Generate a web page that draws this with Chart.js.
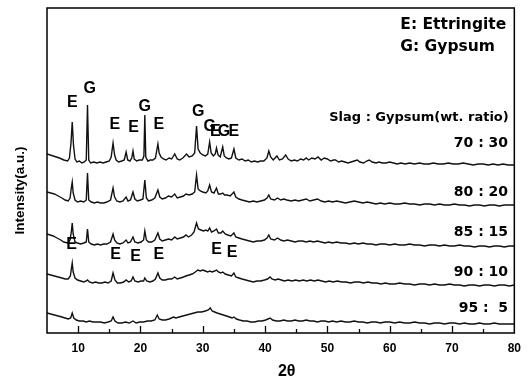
<!DOCTYPE html>
<html>
<head>
<meta charset="utf-8">
<script src="https://cdn.jsdelivr.net/npm/chart.js@4.4.1/dist/chart.umd.min.js"></script>
<style>
  html, body { margin: 0; padding: 0; background: #fff; }
  #wrap { width: 529px; height: 380px; }
</style>
</head>
<body>
<div id="wrap"><canvas id="xrd" width="529" height="380"></canvas></div>
<script>
// axis range / ticks (2 theta)
const twoThetaMin = 5;
const twoThetaMax = 80;
const tickStep = 5;
const labelStep = 10;
const intensityMax = 325;

// Slag : Gypsum ratios, top to bottom, and the level of each label
const ratioLabels = ['70 : 30', '80 : 20', '85 : 15', '90 : 10', '95 :  5'];
const ratioLabelLevels = [190, 141, 101, 61, 25];

// patterns as [2theta, intensity] pairs (already stacked)
const pattern7030 = [[5,179],[6,177],[7,175],[7.7,173],[8.3,172],[8.6,175],[8.85,190],[9.05,211],[9.25,188],[9.5,174],[9.8,171],[10.2,172],[10.6,170],[11.0,171],[11.3,173],[11.5,228],[11.7,173],[12.0,170],[12.5,171],[13.0,170],[13.5,171],[14.0,170],[14.5,171],[15.0,172],[15.3,176],[15.6,190],[15.85,178],[16.1,173],[16.5,171],[17.0,172],[17.4,173],[17.7,181],[17.95,173],[18.3,172],[18.6,175],[18.8,182],[19.0,174],[19.4,172],[19.8,173],[20.3,173],[20.55,177],[20.7,218],[20.85,176],[21.2,172],[21.6,173],[22.0,173],[22.4,175],[22.8,189],[23.0,180],[23.3,176],[23.7,174],[24.1,173],[24.6,175],[25.0,174],[25.5,179],[25.9,174],[26.3,173],[26.8,175],[27.4,179],[27.8,176],[28.3,177],[28.7,180],[29.0,207],[29.25,184],[29.6,180],[30.0,178],[30.4,177],[30.8,179],[31.1,191],[31.35,180],[31.7,177],[32.0,179],[32.2,185],[32.45,178],[32.8,176],[33.2,186],[33.45,177],[33.8,175],[34.2,174],[34.6,175],[35.0,184],[35.3,175],[35.8,173],[36.3,174],[36.8,172],[37.3,173],[37.8,171],[38.3,172],[38.8,171],[39.3,172],[39.8,172],[40.3,175],[40.6,182],[40.9,176],[41.3,173],[41.9,177],[42.3,173],[42.8,174],[43.3,178],[43.7,174],[44.2,172],[44.7,173],[45.2,172],[45.7,174],[46.2,173],[46.6,175],[47.0,173],[47.5,175],[48.0,174],[48.5,176],[49.0,173],[49.5,175],[50.0,174],[50.5,172],[51.0,173],[51.3,173],[51.8,171],[52.3,172],[52.8,171],[53.3,170],[53.8,171],[54.3,172],[54.8,173],[55.2,171],[55.8,170],[56.3,172],[56.7,173],[57.2,171],[57.8,170],[58.3,171],[58.8,170],[59.4,170],[60.0,171],[60.6,170],[61.2,169],[61.8,170],[62.5,169],[63.2,170],[64.0,169],[64.8,170],[65.5,169],[66.3,169],[67.0,170],[67.8,169],[68.6,169],[69.4,170],[70.2,169],[71.0,169],[71.8,170],[72.6,169],[73.4,168],[74.2,169],[75.0,169],[75.8,168],[76.6,169],[77.4,168],[78.2,169],[79.0,168],[80,168]];

const pattern8020 = [[5,141],[5.6,140],[6.2,139],[6.8,137],[7.4,135],[7.9,133],[8.4,132],[8.7,135],[8.9,145],[9.05,151],[9.2,140],[9.5,133],[9.9,131],[10.4,132],[10.9,131],[11.3,133],[11.5,160],[11.7,133],[12.1,131],[12.6,130],[13.1,131],[13.6,130],[14.1,130],[14.6,131],[15.2,133],[15.6,145],[15.85,136],[16.2,132],[16.7,131],[17.2,132],[17.7,136],[18.0,132],[18.4,133],[18.8,141],[19.1,134],[19.5,132],[20.0,133],[20.4,134],[20.7,153],[20.95,135],[21.3,132],[21.8,133],[22.3,135],[22.8,143],[23.1,136],[23.5,134],[24.0,135],[24.5,137],[25.0,136],[25.5,139],[25.9,135],[26.4,136],[26.9,137],[27.3,139],[27.8,138],[28.3,139],[28.7,141],[29.0,158],[29.25,144],[29.6,142],[30.0,141],[30.5,140],[30.8,142],[31.1,148],[31.4,141],[31.8,140],[32.2,145],[32.5,139],[32.9,139],[33.2,140],[33.5,138],[33.9,138],[34.4,137],[35.0,141],[35.3,136],[35.8,134],[36.3,133],[36.9,132],[37.5,131],[38.1,132],[38.7,131],[39.3,132],[39.9,133],[40.3,135],[40.6,138],[40.9,134],[41.5,133],[42.0,135],[42.5,133],[43.0,134],[43.5,133],[44.2,132],[44.8,133],[45.4,132],[46.0,133],[46.6,134],[47.2,132],[47.8,133],[48.4,134],[49.0,132],[49.6,131],[50.2,132],[50.8,131],[51.5,132],[52.2,131],[52.9,130],[53.6,131],[54.3,132],[55.0,131],[55.7,130],[56.4,131],[57.1,130],[57.8,129],[58.5,130],[59.2,129],[60.0,130],[60.8,129],[61.6,129],[62.4,130],[63.2,129],[64.0,129],[64.8,128],[65.6,129],[66.4,129],[67.2,128],[68.0,129],[68.8,128],[69.6,128],[70.4,129],[71.2,128],[72.0,128],[72.8,127],[73.6,128],[74.4,128],[75.2,127],[76.0,128],[76.8,128],[77.6,127],[78.4,128],[79.2,128],[80,128]];

const pattern8515 = [[5,99],[5.5,98],[6.0,97],[6.6,95],[7.2,93],[7.7,91],[8.3,90],[8.7,93],[8.9,101],[9.05,110],[9.2,99],[9.5,91],[9.9,90],[10.4,89],[10.9,90],[11.3,91],[11.5,104],[11.7,91],[12.1,89],[12.6,88],[13.1,89],[13.6,88],[14.1,89],[14.6,89],[15.2,91],[15.6,99],[15.85,93],[16.2,90],[16.7,89],[17.2,90],[17.7,93],[18.0,90],[18.4,91],[18.8,96],[19.1,91],[19.6,90],[20.1,91],[20.5,93],[20.7,102],[20.95,93],[21.3,91],[21.8,91],[22.3,93],[22.8,100],[23.1,94],[23.5,92],[24.0,93],[24.5,94],[25.0,93],[25.5,96],[25.9,94],[26.4,95],[26.9,96],[27.3,98],[27.7,96],[28.2,98],[28.6,101],[29.0,110],[29.3,104],[29.7,103],[30.1,102],[30.5,103],[30.8,102],[31.1,105],[31.4,101],[31.8,102],[32.2,104],[32.5,100],[32.9,100],[33.2,102],[33.6,99],[34.0,98],[34.5,97],[35.0,100],[35.3,96],[35.8,95],[36.3,94],[36.9,93],[37.5,92],[38.1,91],[38.7,92],[39.3,92],[39.9,93],[40.3,95],[40.6,98],[40.9,94],[41.5,93],[42.0,95],[42.5,93],[43.0,92],[43.6,93],[44.2,92],[44.8,91],[45.4,92],[46.0,92],[46.6,91],[47.2,92],[47.8,91],[48.4,92],[49.0,91],[49.6,90],[50.2,91],[50.8,90],[51.5,91],[52.2,90],[52.9,90],[53.6,89],[54.3,90],[55.0,89],[55.7,90],[56.4,89],[57.1,89],[57.8,88],[58.5,89],[59.2,89],[60.0,88],[60.8,89],[61.6,88],[62.4,88],[63.2,89],[64.0,88],[64.8,88],[65.6,87],[66.4,88],[67.2,88],[68.0,87],[68.8,88],[69.6,87],[70.4,87],[71.2,88],[72.0,87],[72.8,87],[73.6,86],[74.4,87],[75.2,87],[76.0,86],[76.8,87],[77.6,87],[78.4,86],[79.2,87],[80,87]];

const pattern9010 = [[5,59],[5.6,58],[6.2,57],[6.8,56],[7.4,55],[7.9,54],[8.4,54],[8.75,57],[8.95,66],[9.05,70],[9.2,61],[9.5,55],[9.9,53],[10.4,52],[10.9,51],[11.3,52],[11.5,53],[11.8,51],[12.3,50],[12.8,51],[13.3,50],[13.8,50],[14.3,51],[14.8,50],[15.3,52],[15.6,60],[15.9,53],[16.3,50],[16.8,50],[17.3,51],[17.7,53],[18.1,51],[18.5,52],[18.8,56],[19.1,52],[19.6,51],[20.1,52],[20.5,52],[20.7,55],[21.0,52],[21.5,51],[22.0,52],[22.4,54],[22.8,60],[23.1,55],[23.5,53],[24.0,53],[24.5,54],[25.0,54],[25.5,56],[25.9,54],[26.4,55],[26.9,56],[27.3,57],[27.8,58],[28.3,59],[28.8,61],[29.2,63],[29.6,62],[30.0,63],[30.4,62],[30.8,61],[31.1,62],[31.5,61],[31.9,62],[32.2,63],[32.5,61],[32.9,60],[33.2,61],[33.6,59],[34.1,58],[34.6,57],[35.0,60],[35.3,56],[35.8,55],[36.3,54],[36.9,53],[37.5,52],[38.1,51],[38.7,52],[39.3,52],[39.9,53],[40.4,54],[40.8,56],[41.1,54],[41.6,53],[42.1,54],[42.6,53],[43.1,52],[43.7,53],[44.3,52],[44.9,53],[45.5,52],[46.1,53],[46.7,52],[47.3,53],[47.9,52],[48.5,53],[49.1,52],[49.7,51],[50.3,52],[50.9,51],[51.6,52],[52.3,51],[53.0,51],[53.7,50],[54.4,51],[55.1,51],[55.8,50],[56.5,51],[57.2,50],[57.9,50],[58.6,49],[59.3,50],[60.0,49],[60.8,49],[61.6,50],[62.4,49],[63.2,49],[64.0,48],[64.8,49],[65.6,49],[66.4,48],[67.2,49],[68.0,48],[68.8,48],[69.6,49],[70.4,48],[71.2,48],[72.0,47],[72.8,48],[73.6,48],[74.4,47],[75.2,48],[76.0,48],[76.8,47],[77.6,48],[78.4,48],[79.2,47],[80,48]];

const pattern955 = [[5,20],[5.6,19],[6.2,18],[6.8,17],[7.4,16],[7.9,15],[8.4,14],[8.8,15],[9.05,20],[9.3,15],[9.7,13],[10.2,12],[10.8,12],[11.3,11],[11.8,12],[12.4,11],[13.0,11],[13.6,11],[14.2,10],[14.8,11],[15.3,12],[15.6,16],[15.9,12],[16.4,10],[17.0,10],[17.6,11],[18.2,10],[18.8,12],[19.3,10],[19.9,11],[20.5,11],[21.1,12],[21.7,12],[22.3,13],[22.7,18],[23.0,14],[23.5,13],[24.0,13],[24.6,14],[25.3,16],[25.7,15],[26.2,16],[26.8,17],[27.4,18],[28.0,19],[28.6,20],[29.2,21],[29.8,21],[30.4,22],[30.9,23],[31.2,25],[31.5,22],[31.9,21],[32.3,20],[32.8,19],[33.3,18],[33.8,17],[34.3,16],[34.7,15],[35.0,16],[35.4,14],[35.9,13],[36.5,12],[37.1,12],[37.7,11],[38.3,11],[38.9,12],[39.5,12],[40.1,13],[40.8,15],[41.2,13],[41.8,12],[42.4,12],[43.0,13],[43.6,12],[44.2,12],[44.8,13],[45.4,12],[46.0,12],[46.6,13],[47.2,12],[47.8,12],[48.4,11],[49.0,12],[49.6,12],[50.2,11],[50.8,12],[51.5,11],[52.2,12],[52.9,11],[53.6,11],[54.3,12],[55.0,11],[55.7,11],[56.4,10],[57.1,11],[57.8,11],[58.5,10],[59.2,11],[60.0,11],[60.8,10],[61.6,11],[62.4,10],[63.2,10],[64.0,11],[64.8,10],[65.6,10],[66.4,9],[67.2,10],[68.0,10],[68.8,9],[69.6,10],[70.4,10],[71.2,9],[72.0,10],[72.8,9],[73.6,9],[74.4,10],[75.2,9],[76.0,9],[76.8,10],[77.6,9],[78.4,9],[79.2,9],[80,9]];

// phase marks above the 70:30 pattern
const topPeakLetters = ['E', 'G', 'E', 'E', 'G', 'E', 'G', 'G', 'E', 'G', 'E'];
const topPeakAngles  = [9.05, 11.84, 15.9, 18.9, 20.7, 22.95, 29.25, 31.1, 32.0, 33.4, 35.0];
const topPeakLevels  = [230, 244, 208, 205, 226, 208, 221, 206, 201, 201, 201];
// ettringite marks between 85:15 and 90:10
const lowPeakAngles = [8.96, 16.0, 19.2, 22.95, 32.2, 34.7];
const lowPeakLevels = [88, 78, 76, 78, 83, 80];

const legendLines = ['E: Ettringite', 'G: Gypsum'];
const legendLevels = [308, 286];
const ratioTitle = 'Slag : Gypsum(wt. ratio)';
const ratioTitleLevel = 215;

const patterns = [pattern7030, pattern8020, pattern8515, pattern9010, pattern955];

const SANS = '"Liberation Sans", Arial, sans-serif';
const WIDE = '"DejaVu Sans", Verdana, sans-serif';

// frame, inward ticks, letters and titles
const decorations = {
    id: 'decorations',
    afterDatasetsDraw(chart) {
        const { ctx, chartArea: a, scales: { x, y } } = chart;
        ctx.save();
        ctx.strokeStyle = '#000';
        ctx.fillStyle = '#000';

        // box
        ctx.lineWidth = 1.5;
        ctx.strokeRect(a.left, a.top, a.right - a.left, a.bottom - a.top);

        // ticks pointing into the plot
        ctx.lineWidth = 1.3;
        x.ticks.forEach(t => {
            if (t.value <= twoThetaMin || t.value >= twoThetaMax) return;
            const px = Math.round(x.getPixelForValue(t.value)) + 0.5;
            const len = t.value % labelStep === 0 ? 7 : 4;
            ctx.beginPath();
            ctx.moveTo(px, a.bottom);
            ctx.lineTo(px, a.bottom - len);
            ctx.stroke();
        });

        // E / G peak letters
        ctx.font = 'bold 16px ' + SANS;
        ctx.textAlign = 'center';
        ctx.textBaseline = 'middle';
        topPeakLetters.forEach((letter, i) => {
            ctx.fillText(letter, x.getPixelForValue(topPeakAngles[i]), y.getPixelForValue(topPeakLevels[i]));
        });
        lowPeakAngles.forEach((ang, i) => {
            ctx.fillText('E', x.getPixelForValue(ang), y.getPixelForValue(lowPeakLevels[i]));
        });

        // legend text
        ctx.textAlign = 'left';
        ctx.font = 'bold 15.5px ' + WIDE;
        legendLines.forEach((txt, i) => {
            ctx.fillText(txt, x.getPixelForValue(61.7), y.getPixelForValue(legendLevels[i]));
        });

        // ratio labels
        ctx.textAlign = 'right';
        ctx.font = 'bold 13px ' + WIDE;
        ctx.fillText(ratioTitle, x.getPixelForValue(79.1), y.getPixelForValue(ratioTitleLevel));
        ctx.font = 'bold 14px ' + WIDE;
        ratioLabels.forEach((txt, i) => {
            ctx.fillText(txt, x.getPixelForValue(79.0), y.getPixelForValue(ratioLabelLevels[i]));
        });

        // axis titles
        ctx.textAlign = 'center';
        ctx.font = 'bold 16px ' + SANS;
        ctx.fillText('2\u03B8', (a.left + a.right) / 2 + 6, a.bottom + 39);

        ctx.translate(a.left - 27, (a.top + a.bottom) / 2 + 20);
        ctx.rotate(-Math.PI / 2);
        ctx.font = 'bold 13.5px ' + SANS;
        ctx.fillText('Intensity(a.u.)', 0, 0);
        ctx.restore();
    }
};

new Chart(document.getElementById('xrd'), {
    type: 'line',
    data: {
        datasets: patterns.map((p, i) => ({
            label: ratioLabels[i],
            data: p.map(([t, c]) => ({ x: t, y: c })),
            borderColor: '#111',
            borderWidth: 1.4,
            pointRadius: 0,
            tension: 0,
            fill: false
        }))
    },
    options: {
        responsive: false,
        animation: false,
        layout: { padding: { left: 47, right: 13, top: 8, bottom: 16.6 } },
        plugins: {
            legend: { display: false },
            tooltip: { enabled: false }
        },
        scales: {
            x: {
                type: 'linear',
                min: twoThetaMin,
                max: twoThetaMax,
                grid: { display: false, drawTicks: false },
                border: { display: false },
                ticks: {
                    stepSize: tickStep,
                    autoSkip: false,
                    maxRotation: 0,
                    padding: 8,
                    color: '#000',
                    font: { family: SANS, size: 12, weight: 'bold' },
                    callback: v => (v % labelStep === 0 ? v : '')
                }
            },
            y: {
                display: false,
                min: 0,
                max: intensityMax
            }
        }
    },
    plugins: [decorations]
});
</script>
</body>
</html>
